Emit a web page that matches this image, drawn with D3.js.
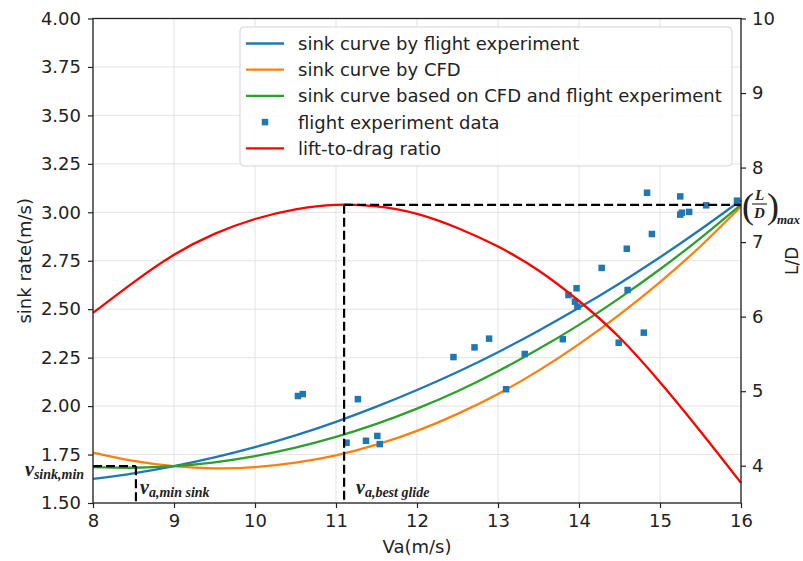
<!DOCTYPE html>
<html>
<head>
<meta charset="utf-8">
<script src="https://cdn.jsdelivr.net/npm/d3@7"></script>
<style>
  body { margin: 0; background: #fff; }
  svg text { font-family: "DejaVu Sans", sans-serif; fill: #222; }
  .math { font-family: "Liberation Serif", "DejaVu Serif", serif; font-weight: bold; font-style: italic; }
</style>
</head>
<body>
<div id="app"></div>
<script>
// airspeed grid the curves were read at (m/s)
const SPEEDS = [8, 8.5, 9, 9.5, 10, 10.5, 11, 11.5, 12, 12.5, 13, 13.5, 14, 14.5, 15, 15.5, 16];
// sink rate (m/s)
const SINK_FLIGHT = [1.624, 1.653, 1.690, 1.735, 1.788, 1.849, 1.919, 1.997, 2.083, 2.176, 2.278, 2.389, 2.507, 2.633, 2.768, 2.911, 3.062];
const SINK_CFD = [1.760, 1.717, 1.690, 1.679, 1.685, 1.708, 1.746, 1.801, 1.872, 1.960, 2.063, 2.183, 2.320, 2.472, 2.640, 2.825, 3.030];
const SINK_COMBINED = [1.685, 1.682, 1.690, 1.710, 1.742, 1.786, 1.841, 1.908, 1.987, 2.077, 2.180, 2.294, 2.419, 2.557, 2.706, 2.867, 3.040];
// lift-to-drag ratio (right axis)
const LIFT_DRAG = [6.05, 6.46, 6.83, 7.11, 7.31, 7.44, 7.50, 7.48, 7.38, 7.19, 6.94, 6.62, 6.21, 5.72, 5.12, 4.46, 3.77];

// flight experiment points
const EXP_SPEED = [10.53, 10.59, 11.13, 11.27, 11.37, 11.51, 11.54, 12.45, 12.71, 12.89, 13.10, 13.33, 13.80, 13.87, 13.95, 13.97, 13.98, 14.28, 14.49, 14.59, 14.60, 14.80, 14.84, 14.90, 15.25, 15.25, 15.27, 15.36, 15.57, 15.95];
const EXP_SINK = [2.052, 2.062, 1.811, 2.036, 1.821, 1.846, 1.804, 2.253, 2.303, 2.348, 2.087, 2.269, 2.345, 2.573, 2.539, 2.608, 2.513, 2.713, 2.327, 2.812, 2.599, 2.379, 3.101, 2.888, 3.082, 2.988, 2.998, 3.002, 3.036, 3.060];

// marked points
const V_MIN_SINK = 8.53, SINK_MIN = 1.69;
const V_BEST_GLIDE = 11.1, LD_MAX = 7.5;

const X_TICKS = [8, 9, 10, 11, 12, 13, 14, 15, 16];
const Y_TICKS = [1.5, 1.75, 2.0, 2.25, 2.5, 2.75, 3.0, 3.25, 3.5, 3.75, 4.0];
const LD_TICKS = [4, 5, 6, 7, 8, 9, 10];

const SERIES_NAMES = ['sink curve by flight experiment', 'sink curve by CFD',
  'sink curve based on CFD and flight experiment', 'flight experiment data', 'lift-to-drag ratio'];
const COLORS = ['#1f77b4', '#ff7f0e', '#2ca02c', '#1f77b4', '#ff0000'];

const width = 803, height = 561;
const margin = {top: 18.5, left: 93, right: 62, bottom: 58};
const plotW = width - margin.left - margin.right;
const plotH = height - margin.top - margin.bottom;

const svg = d3.select('#app').append('svg')
  .attr('width', width)
  .attr('height', height);

const x = d3.scaleLinear().domain([8, 16]).range([0, plotW]);
const y = d3.scaleLinear().domain([1.5, 4.0]).range([plotH, 0]);
const yLD = d3.scaleLinear().domain([3.5, 10]).range([plotH, 0]);

const plot = svg.append('g')
  .attr('transform', `translate(${margin.left}, ${margin.top})`);

// grid
plot.append('g').selectAll('line')
  .data(X_TICKS)
  .join('line')
  .attr('x1', d => x(d)).attr('x2', d => x(d))
  .attr('y1', 0).attr('y2', plotH)
  .style('stroke', '#e3e3e3').style('stroke-width', 1);
plot.append('g').selectAll('line')
  .data(Y_TICKS)
  .join('line')
  .attr('x1', 0).attr('x2', plotW)
  .attr('y1', d => y(d)).attr('y2', d => y(d))
  .style('stroke', '#e3e3e3').style('stroke-width', 1);

// sink curves
const sinkLine = d3.line()
  .x((d, i) => x(SPEEDS[i]))
  .y(d => y(d))
  .curve(d3.curveNatural);

[SINK_FLIGHT, SINK_CFD, SINK_COMBINED].forEach((series, k) => {
  plot.append('path')
    .datum(series)
    .attr('d', sinkLine)
    .style('fill', 'none')
    .style('stroke', COLORS[k])
    .style('stroke-width', 2.3);
});

// experiment points
const sq = 6.5;
plot.append('g').selectAll('rect')
  .data(EXP_SPEED)
  .join('rect')
  .attr('x', d => x(d) - sq / 2)
  .attr('y', (d, i) => y(EXP_SINK[i]) - sq / 2)
  .attr('width', sq)
  .attr('height', sq)
  .style('fill', COLORS[3]);

// lift-to-drag on the twin axis
const ldLine = d3.line()
  .x((d, i) => x(SPEEDS[i]))
  .y(d => yLD(d))
  .curve(d3.curveNatural);
plot.append('path')
  .datum(LIFT_DRAG)
  .attr('d', ldLine)
  .style('fill', 'none')
  .style('stroke', COLORS[4])
  .style('stroke-width', 2.3);

// dashed guide lines
const dashed = (x1, y1, x2, y2) => plot.append('line')
  .attr('x1', x1).attr('y1', y1).attr('x2', x2).attr('y2', y2)
  .style('stroke', '#000')
  .style('stroke-width', 2.2)
  .style('stroke-dasharray', '9,4');
dashed(x(8), y(SINK_MIN), x(V_MIN_SINK), y(SINK_MIN));
dashed(x(V_MIN_SINK), y(SINK_MIN), x(V_MIN_SINK), plotH);
dashed(x(V_BEST_GLIDE), yLD(LD_MAX), x(16), yLD(LD_MAX));
dashed(x(V_BEST_GLIDE), yLD(LD_MAX), x(V_BEST_GLIDE), plotH);

// axes
const styleAxis = g => {
  g.select('.domain').remove();
  g.selectAll('.tick line').style('stroke', '#222').style('stroke-width', 1.2);
  g.selectAll('.tick text').style('font-size', '18px').style('fill', '#222')
    .style('font-family', '"DejaVu Sans", sans-serif');
};
plot.append('g')
  .attr('transform', `translate(0, ${plotH})`)
  .call(d3.axisBottom(x).tickValues(X_TICKS).tickFormat(d3.format('d')).tickSize(5).tickPadding(6))
  .call(styleAxis);
plot.append('g')
  .call(d3.axisLeft(y).tickValues(Y_TICKS).tickFormat(d3.format('.2f')).tickSize(5).tickPadding(7))
  .call(styleAxis);
plot.append('g')
  .attr('transform', `translate(${plotW}, 0)`)
  .call(d3.axisRight(yLD).tickValues(LD_TICKS).tickFormat(d3.format('d')).tickSize(5).tickPadding(6))
  .call(styleAxis);

// frame
plot.append('rect')
  .attr('width', plotW).attr('height', plotH)
  .style('fill', 'none').style('stroke', '#222').style('stroke-width', 1.3);

// axis titles
svg.append('text')
  .attr('x', margin.left + plotW / 2).attr('y', 553)
  .attr('text-anchor', 'middle')
  .style('font-size', '18px')
  .text('Va(m/s)');
svg.append('text')
  .attr('transform', `translate(31, ${margin.top + plotH / 2}) rotate(-90)`)
  .attr('text-anchor', 'middle')
  .style('font-size', '18px')
  .text('sink rate(m/s)');
svg.append('text')
  .attr('transform', `translate(798, ${margin.top + plotH / 2}) rotate(-90)`)
  .attr('text-anchor', 'middle')
  .style('font-size', '17px')
  .text('L/D');

// math annotations
const mathLabel = (px, py, main, sub, mainSize, subSize) => {
  const t = svg.append('text')
    .attr('class', 'math')
    .attr('x', px).attr('y', py)
    .style('font-size', mainSize + 'px');
  t.append('tspan').text(main);
  t.append('tspan')
    .attr('dy', 3)
    .style('font-size', subSize + 'px')
    .text(sub);
  return t;
};
mathLabel(25, 476, 'v', 'sink,min', 20, 14);
mathLabel(140, 494, 'v', 'a,min sink', 20, 14);
mathLabel(356, 494, 'v', 'a,best glide', 20, 14);

// (L/D)max
const ldm = svg.append('g');
ldm.append('text').attr('class', 'math').attr('x', 742).attr('y', 218)
  .style('font-size', '36px').style('font-style', 'normal').style('font-weight', 'normal').text('(');
ldm.append('text').attr('class', 'math').attr('x', 759.5).attr('y', 200)
  .attr('text-anchor', 'middle').style('font-size', '15px').text('L');
ldm.append('line').attr('x1', 752).attr('x2', 767).attr('y1', 204).attr('y2', 204)
  .style('stroke', '#222').style('stroke-width', 1.1);
ldm.append('text').attr('class', 'math').attr('x', 759.5).attr('y', 218)
  .attr('text-anchor', 'middle').style('font-size', '15px').text('D');
ldm.append('text').attr('class', 'math').attr('x', 767).attr('y', 218)
  .style('font-size', '36px').style('font-style', 'normal').style('font-weight', 'normal').text(')');
ldm.append('text').attr('class', 'math').attr('x', 777).attr('y', 224)
  .style('font-size', '13px').text('max');

// legend
const legend = svg.append('g').attr('transform', 'translate(240, 27)');
legend.append('rect')
  .attr('width', 492).attr('height', 139)
  .attr('rx', 4).attr('ry', 4)
  .style('fill', 'rgba(255,255,255,0.85)')
  .style('stroke', '#d5d5d5').style('stroke-width', 1);
const rowY = i => 16.5 + i * 26.2;
SERIES_NAMES.forEach((name, i) => {
  if (i === 3) {
    legend.append('rect')
      .attr('x', 25 - sq / 2).attr('y', rowY(i) - sq / 2)
      .attr('width', sq).attr('height', sq)
      .style('fill', COLORS[i]);
  } else {
    legend.append('line')
      .attr('x1', 6).attr('x2', 44)
      .attr('y1', rowY(i)).attr('y2', rowY(i))
      .style('stroke', COLORS[i]).style('stroke-width', 2.3);
  }
  legend.append('text')
    .attr('x', 58).attr('y', rowY(i) + 6.5)
    .style('font-size', '18px')
    .text(name);
});
</script>
</body>
</html>
